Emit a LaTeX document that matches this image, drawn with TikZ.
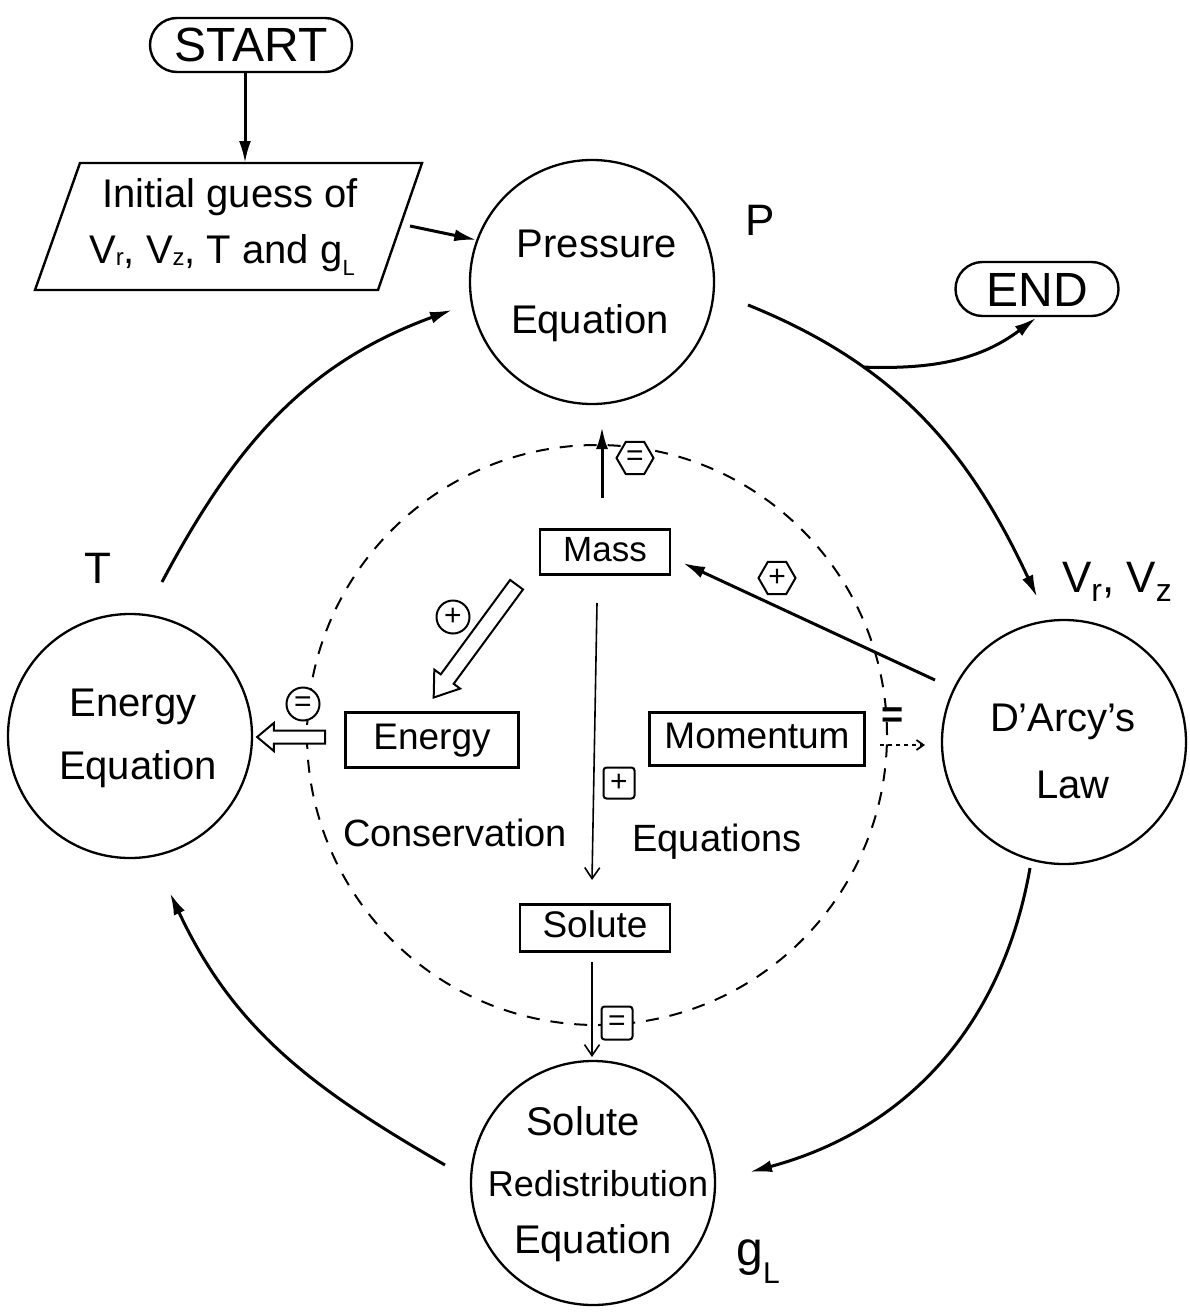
\documentclass[tikz,border=0pt]{standalone}
\usepackage{fontspec}
\setmainfont{Liberation Sans}
\usetikzlibrary{shapes.geometric,shapes.arrows,arrows.meta,calc}
\newcommand\lsub[3]{\raisebox{-#1pt}{\fontsize{#2}{#2}\selectfont #3}}
\begin{document}
\begin{tikzpicture}[x=1pt,y=-1pt,
  bigc/.style={circle,draw,line width=2.3pt,minimum size=244pt,inner sep=0pt},
  ctext/.style={anchor=base,inner sep=0pt,font=\fontsize{40}{48}\selectfont},
  lbl/.style={anchor=base,inner sep=0pt,font=\fontsize{44}{50}\selectfont},
  boxn/.style={draw,line width=2.4pt,inner sep=0pt,fill=white,font=\fontsize{37}{40}\selectfont,text height=27pt,text depth=8pt},
  term/.style={draw,line width=2.4pt,rounded corners=27pt,minimum height=54pt,inner sep=0pt,font=\fontsize{48}{50}\selectfont,text height=34pt,text depth=0pt},
  mainarrow/.style={line width=3pt,-{Latex[length=22pt,width=12pt]}},
  thinarrow/.style={line width=1.6pt,-{Straight Barb[length=11pt,width=15pt,line width=1.6pt]}},
  dotarrow/.style={line width=1.8pt,dash pattern=on 4pt off 4pt,-{Straight Barb[length=7pt,width=10pt,line width=1.8pt]}},
  hollow/.style={single arrow,draw,line width=2pt,fill=white,inner sep=0pt},
  hexs/.style={regular polygon,regular polygon sides=6,draw,line width=2pt,minimum size=37pt,inner sep=0pt,fill=white,font=\fontsize{30}{30}\selectfont},
  circs/.style={circle,draw,line width=2pt,minimum size=33pt,inner sep=0pt,fill=white,font=\fontsize{30}{30}\selectfont},
  sqs/.style={rectangle,rounded corners=3pt,draw,line width=2pt,minimum size=31pt,inner sep=0pt,fill=white,font=\fontsize{30}{30}\selectfont},
  dashc/.style={circle,draw,line width=2pt,dash pattern=on 13pt off 11pt,minimum size=580pt,inner sep=0pt}
]
\useasboundingbox (0,0) rectangle (1189,1314);

% dashed circle (behind everything)
\node[dashc] (dc) at (597,735) {};

% big circles
\node[bigc] (press) at (592,282) {};
\node[bigc] (darcy) at (1064,742) {};
\node[bigc] (energy) at (130,736) {};
\node[bigc] (solute) at (593,1183) {};

% circle texts
\node[ctext] (t1) at (597,257) {Pressure};
\node[ctext] (t2) at (590,333) {Equation};
\node[ctext] (t3) at (133,716) {Energy};
\node[ctext] (t4) at (138,779) {Equation};
\node[ctext] (t5) at (1063,731) {D'Arcy's};
\node[ctext] (t6) at (1073,798) {Law};
\node[ctext] (t7) at (583,1135) {Solute};
\node[ctext,font=\fontsize{36}{40}\selectfont] (t8) at (598,1196) {Redistribution};
\node[ctext] (t9) at (593,1253) {Equation};

% variable labels
\node[lbl] (lp) at (760,235) {P};
\node[lbl] (lt) at (98,583) {T};
\node[lbl] (lv) at (1117,592) {V\lsub{9}{32}{r}, V\lsub{9}{32}{z}};
\node[lbl,font=\fontsize{48}{50}\selectfont] (lg) at (758,1265) {g\lsub{18}{30}{L}};

% terminals
\node[term,minimum width=202pt] (start) at (251,45) {START};
\node[term,minimum width=163pt] (endn) at (1037,289) {END};

% initial guess parallelogram
\coordinate (g1) at (80,163);
\coordinate (g2) at (422,163);
\coordinate (g3) at (378,290);
\coordinate (g4) at (35,290);
\draw[line width=2.4pt] (g1) -- (g2) -- (g3) -- (g4) -- cycle;
\node[ctext] (ig1) at (230,207) {Initial guess of};
\node[ctext] (ig2) at (222,263) {V\lsub{2}{24}{r}, V\lsub{2}{24}{z}, T and g\lsub{12}{22}{L}};
\coordinate (gtop) at (245,163);
\coordinate (gout) at (410,226);

\draw[mainarrow] ([xshift=-6pt]start.south) -- (gtop);
\draw[mainarrow] (gout) -- (press.160);

% main cycle arrows
\coordinate (c1) at (748,305);
\coordinate (c2) at (1037,597);
\draw[mainarrow] (c1) to[out=-22,in=115] coordinate[pos=0.3] (br) (c2);
\draw[mainarrow,shorten >=1pt] (br) to[out=-2,in=-143] (endn.south);
\coordinate (c4) at (1030,868);
\coordinate (c5) at (750,1172);
\draw[mainarrow] (c4) to[out=-100,in=15] (c5);
\coordinate (c6) at (445,1165);
\coordinate (c7) at (170,893);
\draw[mainarrow] (c6) to[out=150,in=-65] (c7);
\coordinate (c8) at (162,582);
\coordinate (c9) at (452,310);
\draw[mainarrow] (c8) to[out=62,in=200] (c9);

% inner boxes
\node[boxn,minimum width=130pt,minimum height=45pt,font=\fontsize{35}{36}\selectfont] (mass) at (605,552) {Mass};
\node[boxn,minimum width=173pt,minimum height=55pt] (ebox) at (432,740) {Energy};
\node[boxn,minimum width=215pt,minimum height=53pt] (mbox) at (757,739) {Momentum};
\node[boxn,minimum width=150pt,minimum height=47pt] (sbox) at (595,928) {Solute};

\node[ctext,font=\fontsize{38}{40}\selectfont] (cons) at (455,846) {Conservation};
\node[ctext,font=\fontsize{38}{40}\selectfont] (eqs) at (717,851) {Equations};

% Mass up arrow to Pressure
\coordinate (mu1) at (602,498);
\coordinate (mu2) at (602,427);
\draw[mainarrow] (mu1) -- (mu2);
\node[hexs] (h1) at (635,458) {=};

% D'Arcy to Mass
\coordinate (dm1) at (935,680);
\coordinate (dm2) at (683,563);
\draw[mainarrow] (dm1) -- (dm2);
\node[hexs] (h2) at (777,578) {+};

% Mass to Energy box (hollow arrow)
\node[hollow,minimum height=140pt,inner sep=7pt,single arrow head extend=8pt,single arrow tip angle=70,rotate=233.7] (ha1) at (478.5,636.5) {};
\node[circs] (cp1) at (453,617) {+};

% Energy box to Energy circle (hollow arrow)
\node[hollow,minimum height=68pt,inner sep=5.5pt,single arrow head extend=7.5pt,single arrow tip angle=80,rotate=180] (ha2) at (295,737) {};
\node[circs] (ce1) at (303,704) {=};

% Momentum to D'Arcy
\node[inner sep=0pt,font=\fontsize{38}{38}\selectfont\bfseries] (eqd) at (893,718) {=};
\coordinate (md1) at (880,745);
\coordinate (md2) at (925,745);
\draw[dotarrow] (md1) -- (md2);

% Mass down to Solute
\coordinate (ms1) at (597,603);
\coordinate (ms2) at (592,880);
\draw[thinarrow] (ms1) -- (ms2);
\node[sqs] (sq1) at (619,783) {+};

% Solute box to Solute circle
\coordinate (ss1) at (592,962);
\coordinate (ss2) at (592,1057);
\draw[thinarrow] (ss1) -- (ss2);
\node[sqs,minimum height=33pt] (sq2) at (617,1023) {=};

\end{tikzpicture}
\end{document}
